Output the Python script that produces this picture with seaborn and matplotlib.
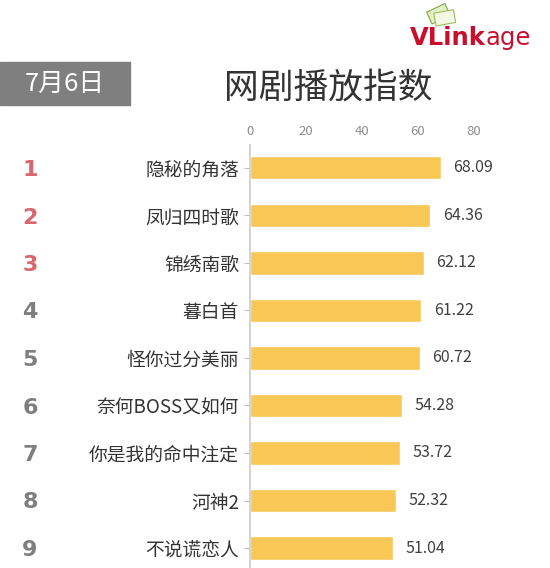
import numpy as np
import pandas as pd
import seaborn as sns
import matplotlib.pyplot as plt
from matplotlib.patches import Rectangle

shows = ["隐秘的角落", "凤归四时歌", "锦绣南歌", "暮白首", "怪你过分美丽",
         "奈何BOSS又如何", "你是我的命中注定", "河神2", "不说谎恋人"]
scores = [68.09, 64.36, 62.12, 61.22, 60.72, 54.28, 53.72, 52.32, 51.04]
ranks = [1, 2, 3, 4, 5, 6, 7, 8, 9]
x_ticks = [0, 20, 40, 60, 80]

df = pd.DataFrame({"show": shows, "score": scores})

sns.set_style("white")
plt.rcParams['font.family'] = ['Noto Sans CJK SC', 'DejaVu Sans']

fig = plt.figure(figsize=(5.5, 5.68), dpi=100)
ax = fig.add_axes([250 / 550, 0, 280 / 550, (568 - 145) / 568])

sns.barplot(x="score", y="show", data=df, orient="h", color="#F9C756",
            width=0.49, saturation=1, ax=ax)

ax.set_xlim(0, 100)
ax.set_ylim(8.42, -0.48)
ax.set_xticks(x_ticks)
ax.xaxis.tick_top()
ax.tick_params(axis="x", length=0, labelsize=9.5, labelcolor="#8c8c8c", pad=5)
ax.tick_params(axis="y", length=4, color="#bfbfbf", labelsize=13.5,
               labelcolor="#333333", pad=4, left=True)
ax.set_xlabel("")
ax.set_ylabel("")
for s in ["top", "right", "bottom"]:
    ax.spines[s].set_visible(False)
ax.spines["left"].set_color("#cccccc")
ax.spines["left"].set_linewidth(1.2)

for p in ax.patches:
    w = p.get_width()
    ax.annotate(f"{w:.2f}", xy=(w, p.get_y() + p.get_height() / 2),
                xytext=(9, 0), textcoords="offset points", va="center",
                fontsize=11.5, color="#404040")

# rank numbers
for i, r in enumerate(ranks):
    c = "#d9666e" if r <= 3 else "#7f7f7f"
    y = 1 - (170 + i * 47.5) / 568
    fig.text(30 / 550, y, str(r), ha="center", va="center", fontsize=16,
             fontweight="bold", color=c, family="DejaVu Sans")

# date box and title
fig.patches.append(Rectangle((0, 1 - 105 / 568), 130 / 550, 43 / 568,
                             transform=fig.transFigure, color="#7f7f7f"))
fig.text(65 / 550, 1 - 84 / 568, "7月6日", ha="center", va="center",
         fontsize=18.5, color="white")
fig.text(328 / 550, 1 - 88 / 568, "网剧播放指数", ha="center", va="center",
         fontsize=25, color="#333333")

# logo
fig.patches.append(Rectangle((432 / 550, 1 - 24 / 568), 20 / 550, 13 / 568,
                             transform=fig.transFigure, facecolor="#e4efc4",
                             edgecolor="#7fa84a", lw=0.8, angle=25))
fig.patches.append(Rectangle((436 / 550, 1 - 26 / 568), 20 / 550, 13 / 568,
                             transform=fig.transFigure, facecolor="#f3f7e4",
                             edgecolor="#9bbf5a", lw=0.8, angle=10))
t1 = fig.text(410 / 550, 1 - 38 / 568, "VLink", ha="left", va="center",
              fontsize=17.5, fontweight="bold", color="#c8102e",
              family="DejaVu Sans")
fig.canvas.draw()
bb = t1.get_window_extent()
fig.text(bb.x1 / 550, 1 - 38 / 568, "age", ha="left", va="center",
         fontsize=17.5, color="#c8102e", family="DejaVu Sans")

fig.savefig("out.png", dpi=100, facecolor="white")
